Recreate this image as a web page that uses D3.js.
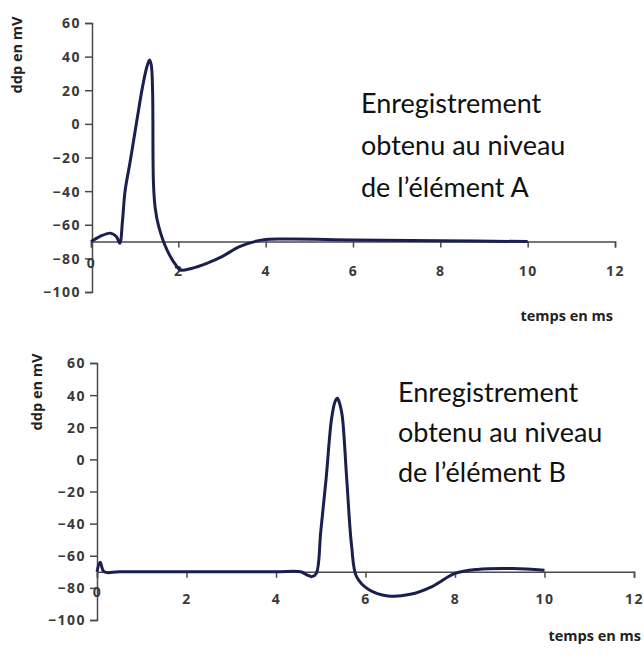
<!DOCTYPE html>
<html>
<head>
<meta charset="utf-8">
<script src="https://cdn.jsdelivr.net/npm/d3@7"></script>
<style>
  body { margin: 0; background: #fff; }
  svg { display: block; }
  .tick text { font-family: 'Open Sans', sans-serif; font-weight: 700; font-size: 14px; letter-spacing: 1.5px; fill: #3a3a3a; }
  .axis path, .axis line { stroke: #4a4a4a; stroke-width: 1.5; }
  .lbl { font-family: 'Open Sans', sans-serif; font-weight: 700; font-size: 14.5px; fill: #222; }
  .note { font-family: Lato, sans-serif; font-size: 27px; fill: #111; }
</style>
</head>
<body>
<div id="chart"></div>
<script>
// recording at element A
var timesA = [0, 0.2, 0.45, 0.58, 0.66, 0.72, 0.78, 0.9, 1.05, 1.18, 1.28, 1.34, 1.38, 1.41, 1.43, 1.47, 1.55, 1.74, 1.97, 2.05, 2.3, 2.65, 3.0, 3.4, 3.93, 4.5, 6, 8, 10];
var voltsA = [-70, -67, -65, -67, -71, -58, -40, -22, 2, 22, 34, 38, 35, 20, -35, -50, -61, -75, -85, -87, -86, -83, -79, -73, -69, -68.5, -69, -69.5, -70];

// recording at element B
var timesB = [0, 0.07, 0.16, 0.5, 2, 4, 4.55, 4.7, 4.8, 4.9, 5.0, 5.12, 5.24, 5.32, 5.37, 5.42, 5.48, 5.58, 5.69, 5.8, 6.07, 6.5, 7.0, 7.5, 8.0, 8.5, 9.3, 10];
var voltsB = [-70, -64, -70, -70, -70, -70, -70, -72, -73, -71, -45, -12, 25, 36, 38, 35, 27, -12, -54, -73, -81, -85, -84, -79, -71, -68.5, -68, -69];

var xTicks = [0, 2, 4, 6, 8, 10, 12];
var yTicks = [60, 40, 20, 0, -20, -40, -60, -80, -100];
var notesA = ['Enregistrement', 'obtenu au niveau', 'de l\u2019\u00e9l\u00e9ment A'];
var notesB = ['Enregistrement', 'obtenu au niveau', 'de l\u2019\u00e9l\u00e9ment B'];

var svg = d3.select('#chart').append('svg')
    .attr('width', 644)
    .attr('height', 671);

//one panel per recording
function panel(times, volts, box, notes) {
    var x = d3.scaleLinear().domain([0, 12]).range([box.x0, box.x1]);
    var y = d3.scaleLinear().domain([-100, 60]).range([box.y0, box.y1]);

    svg.append('g')
        .attr('class', 'axis')
        .attr('transform', 'translate(' + box.ax + ',0)')
        .call(d3.axisLeft(y).tickValues(yTicks).tickSize(7).tickPadding(4))
        .selectAll('.tick text').attr('dy', '0.35em');

    var xa = svg.append('g')
        .attr('class', 'axis')
        .attr('transform', 'translate(0,' + y(-70) + ')')
        .call(d3.axisBottom(x).tickValues(xTicks).tickSize(6).tickPadding(box.tp));
    xa.selectAll('.tick text')
        .filter(function (d) { return d === 0; })
        .attr('dy', '0.2em');

    svg.append('path')
        .datum(times.map(function (t, i) { return [t, volts[i]]; }))
        .attr('fill', 'none')
        .attr('stroke', '#1b1f4f')
        .attr('stroke-width', 3)
        .attr('stroke-linejoin', 'round')
        .attr('d', d3.line()
            .x(function (d) { return x(d[0]); })
            .y(function (d) { return y(d[1]); })
            .curve(d3.curveCatmullRom.alpha(0.5)));

    svg.append('text')
        .attr('class', 'lbl')
        .attr('transform', 'translate(' + box.yl[0] + ',' + box.yl[1] + ') rotate(-90)')
        .attr('text-anchor', 'middle')
        .attr('dy', '0.35em')
        .text('ddp en mV');

    svg.append('text')
        .attr('class', 'lbl')
        .attr('x', box.xl[0])
        .attr('y', box.xl[1])
        .attr('text-anchor', 'end')
        .text('temps en ms');

    svg.append('g').selectAll('text')
        .data(notes)
        .enter()
        .append('text')
        .attr('class', 'note')
        .attr('x', box.nx)
        .attr('y', function (d, i) { return box.ny + i * box.ns; })
        .text(function (d) { return d; });
}

panel(timesA, voltsA, {x0: 91, x1: 615, y0: 292, y1: 23, ax: 92, tp: 18,
    yl: [17, 55], xl: [613, 321], nx: 361, ny: 113, ns: 42}, notesA);
panel(timesB, voltsB, {x0: 97, x1: 634, y0: 620, y1: 363, ax: 97, tp: 16,
    yl: [37, 392], xl: [641, 641], nx: 398, ny: 402, ns: 40}, notesB);
</script>
</body>
</html>
